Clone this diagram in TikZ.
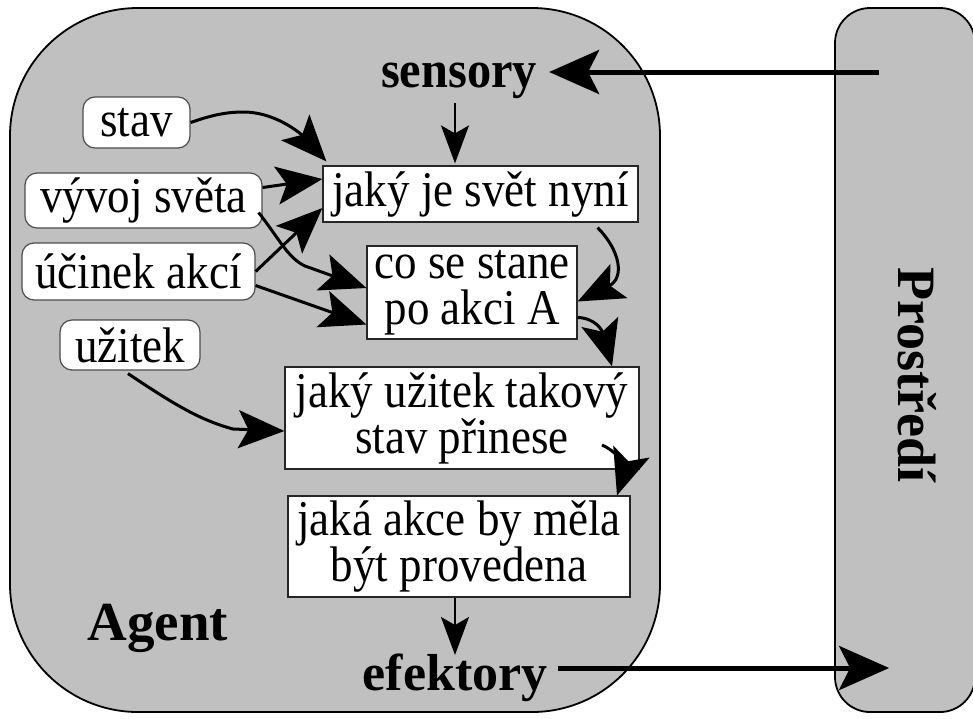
\documentclass[tikz,border=0pt]{standalone}
\usepackage{fontspec}
\setmainfont{Liberation Serif}
\newfontfamily\narrowfont{Liberation Serif}[FakeStretch=0.9]
\newfontfamily\semifont{Liberation Serif}[FakeStretch=0.93]
\usetikzlibrary{arrows.meta}
\definecolor{agentgray}{HTML}{C0C0C0}
\begin{document}
\begin{tikzpicture}[x=1pt,y=-1pt,
  lbl/.style={font=\narrowfont\fontsize{50}{46}\selectfont, align=center, inner sep=0pt},
  rbox/.style={lbl, draw=black!70, line width=1.2pt, fill=white, rounded corners=12pt},
  sbox/.style={lbl, draw=black!85, line width=1.2pt, fill=white},
  boldlbl/.style={font=\semifont\fontsize{52}{54}\selectfont\bfseries, inner sep=0pt, anchor=base},
  container/.style={draw=black, line width=1.8pt, fill=agentgray},
  arr/.style={line width=3pt, -{Stealth[length=46pt,width=38pt,inset=10pt]}},
  arrthin/.style={line width=2pt, -{Stealth[length=38pt,width=28pt,inset=8pt]}},
  bigarr/.style={line width=5pt, -{Stealth[length=50pt,width=44pt,inset=11pt]}}
]
\fill[white] (0,0) rectangle (973,718);
\useasboundingbox (0,0) rectangle (973,718);
\clip (0,0) rectangle (973,718);

% containers
\node[container, rounded corners=35pt, minimum width=140pt, minimum height=704pt, inner sep=0pt] (env) at (905,360) {};
\node[container, rounded corners=128pt, minimum width=650pt, minimum height=704pt, inner sep=0pt] (agent) at (335,360) {};

% labels
\node[boldlbl] (sensory) at (459,87) {sensory};
\node[boldlbl, font=\fontsize{52}{54}\selectfont\bfseries] (efekt) at (455,690) {efektory};
\node[boldlbl, font=\fontsize{55}{56}\selectfont\bfseries] (agentlbl) at (158,640) {Agent};
\node[boldlbl, font=\fontsize{54}{56}\selectfont\bfseries, rotate=-90] (prost) at (898,375) {Prostředí};

% knowledge boxes
\node[rbox, minimum width=107pt, minimum height=51pt] (stav) at (136.5,122.5) {stav};
\node[rbox, minimum width=237pt, minimum height=55pt] (vyvoj) at (143.5,200.5) {vývoj světa};
\node[rbox, minimum width=233pt, minimum height=57pt] (ucinek) at (138.5,271.5) {účinek akcí};
\node[rbox, minimum width=140pt, minimum height=50pt] (uzitek) at (130,345) {užitek};

% process boxes
\node[sbox, minimum width=315pt, minimum height=56pt] (jaky) at (480.5,194) {jaký je svět nyní};
\node[sbox, minimum width=210pt, minimum height=93pt] (cose) at (472,292.5) {co se stane\\po akci A};
\node[sbox, minimum width=354pt, minimum height=102pt] (juz) at (462,418) {jaký užitek takový\\stav přinese};
\node[sbox, minimum width=342pt, minimum height=101pt] (akce) at (459,546.5) {jaká akce by měla\\být provedena};

% helper coordinates
\coordinate (senstop) at ([xshift=-4pt,yshift=-16pt]sensory.base);
\coordinate (akcebot) at ([xshift=-4pt]akce.south);
\coordinate (efektop) at ([yshift=35pt]efekt.base);

% arrows into "jaky je svet nyni"
\draw[arr] (stav.east) .. controls (215,114) and (228,112) .. (245,112) .. controls (280,113) and (305,138) .. ([xshift=4pt,yshift=4pt]jaky.north west);
\draw[arr] ([yshift=13pt]vyvoj.east) -- ([yshift=15pt]jaky.west);
\draw[arr] (ucinek.east) -- ([yshift=-14pt]jaky.west);
\draw[arrthin] (senstop) -- ([yshift=2pt]senstop |- jaky.north);

% arrows into "co se stane"
\draw[arr] ([xshift=-4pt,yshift=-12pt]vyvoj.east) .. controls (280,240) and (288,258) .. (305,266) -- ([yshift=4.5pt]cose.west);
\draw[arr] ([yshift=-14pt]ucinek.east) -- ([yshift=-32pt]cose.west);
\draw[arr] ([xshift=117pt,yshift=-5pt]jaky.south) .. controls (620,250) and (625,278) .. ([yshift=-9pt]cose.east);

% arrows into "jaky uzitek"
\draw[arr] ([yshift=-25pt]cose.east) .. controls (595,318) and (602,330) .. ([xshift=150pt]juz.north);
\draw[arr] ([xshift=-2pt,yshift=-3pt]uzitek.south) .. controls (175,405) and (200,420) .. (233,429) -- ([yshift=-13pt]juz.west);

% into "jaka akce"
\draw[arr] ([xshift=140pt,yshift=-27pt]juz.center) .. controls (618,452) and (626,468) .. ([xshift=158pt]akce.north);

% to efektory
\draw[arrthin] (akcebot) -- (akcebot |- efektop);

% environment arrows
\draw[bigarr] ([xshift=45pt,yshift=288pt]env.west) -- ([xshift=12pt,yshift=15pt]sensory.base east);
\draw[bigarr] ([xshift=10pt,yshift=22pt]efekt.base east) -- ([xshift=55pt,yshift=-308pt]env.west);
\end{tikzpicture}
\end{document}
